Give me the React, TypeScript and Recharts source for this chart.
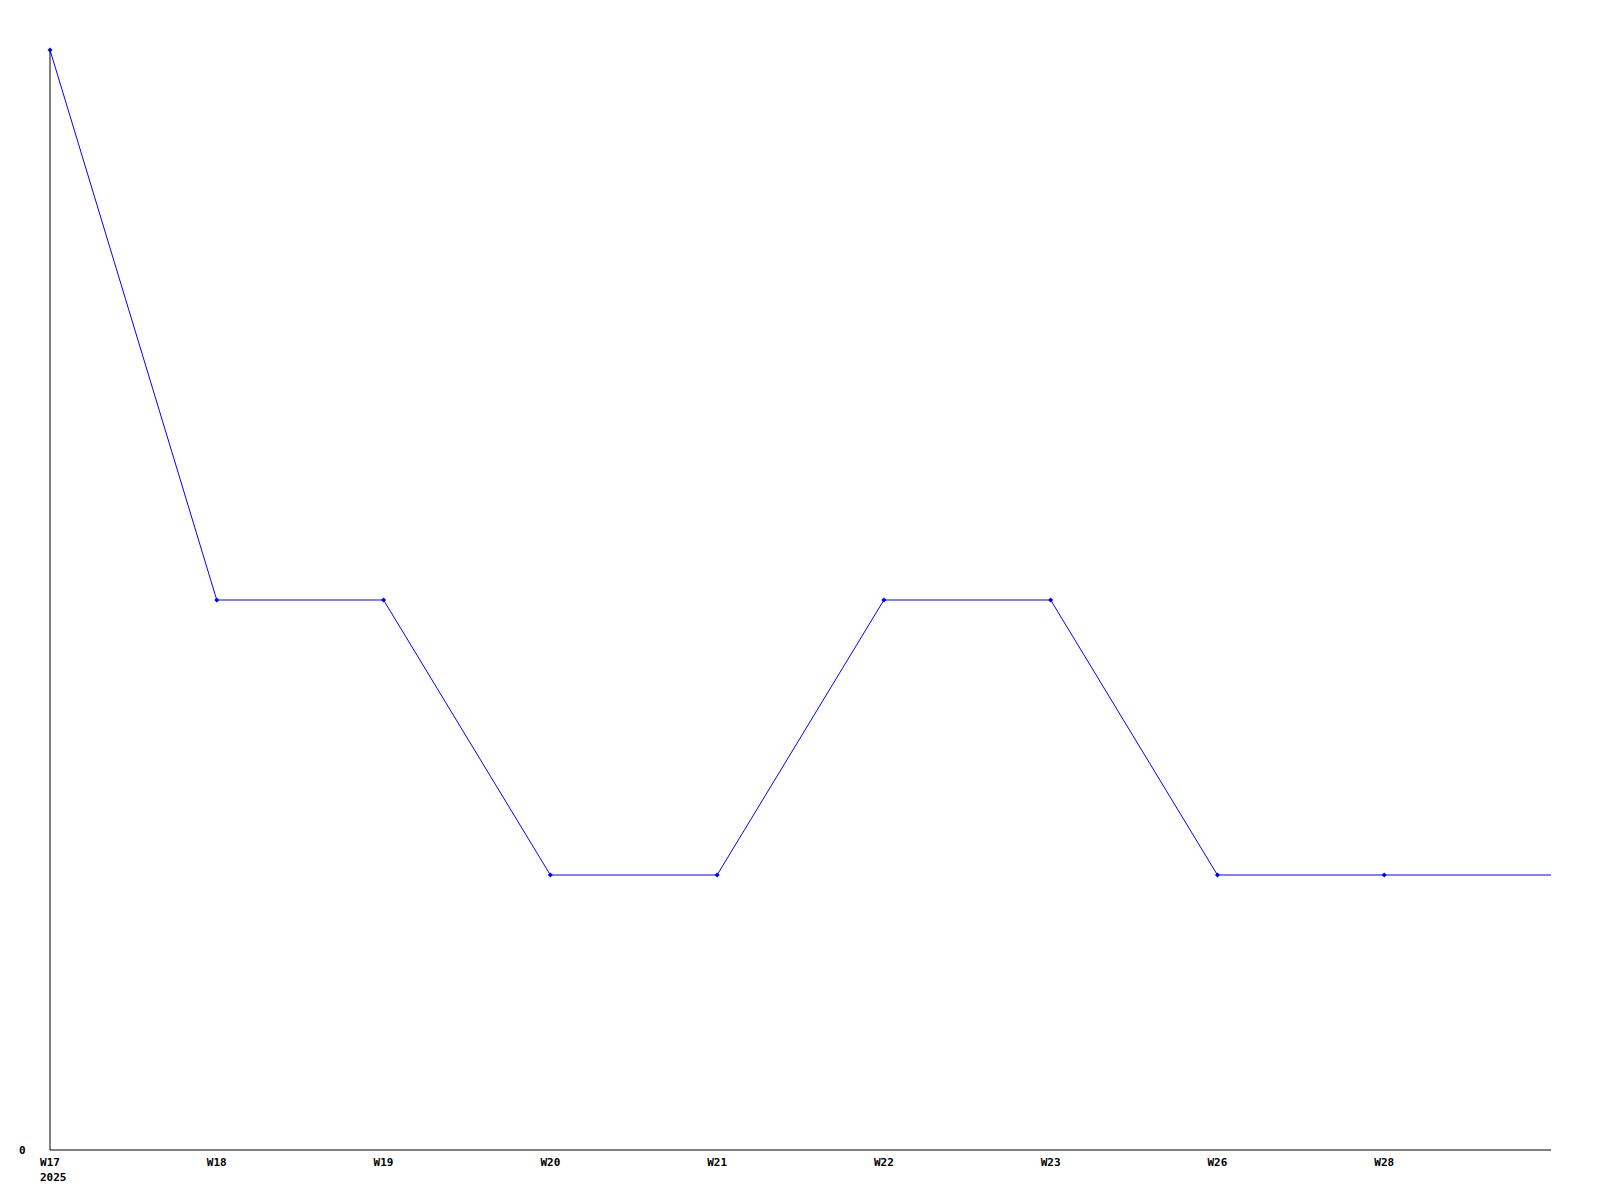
import React from "react";
import { LineChart, Line, XAxis, YAxis } from "recharts";

const weeks = ["W17", "W18", "W19", "W20", "W21", "W22", "W23", "W26", "W28", ""];
const counts = [4, 2, 2, 1, 1, 2, 2, 1, 1, 1];
const yearLabel = "2025";
const yTicks = [0];

const data = weeks.map((w, i) => ({ week: w, count: counts[i] }));

const FONT = "'DejaVu Sans Mono', 'Liberation Mono', monospace";

const XTick = (props: any) => {
  const { x, y, payload, index } = props;
  return (
    <g>
      <text x={x} y={y + 16} textAnchor="middle" fontFamily={FONT} fontWeight="bold" fontSize={11} fill="#000">
        {payload.value}
      </text>
      {index === 0 ? (
        <text x={x - 10} y={y + 31} textAnchor="start" fontFamily={FONT} fontWeight="bold" fontSize={11} fill="#000">
          {yearLabel}
        </text>
      ) : null}
    </g>
  );
};

const YTick = (props: any) => {
  const { y, payload } = props;
  return (
    <text x={19} y={y + 4} textAnchor="start" fontFamily={FONT} fontWeight="bold" fontSize={11} fill="#000">
      {payload.value}
    </text>
  );
};

const Dot = (props: any) => {
  const { cx, cy, index } = props;
  if (index === weeks.length - 1) return <g key={index} />;
  return (
    <path
      key={index}
      d={`M${cx - 2.5},${cy} L${cx},${cy - 2.5} L${cx + 2.5},${cy} L${cx},${cy + 2.5} Z`}
      fill="#0000ff"
      stroke="none"
    />
  );
};

export default function App() {
  return (
    <div style={{ position: "fixed", left: 0, top: 0, width: 1600, height: 1200, background: "#fff" }}>
      <LineChart width={1600} height={1200} data={data} margin={{ top: 50, right: 49, bottom: 0, left: 0 }}>
        <XAxis
          dataKey="week"
          tick={<XTick />}
          tickLine={false}
          tickSize={0}
          tickMargin={0}
          interval={0}
          axisLine={{ stroke: "#000", strokeWidth: 1 }}
          height={50}
        />
        <YAxis
          domain={[0, 4]}
          ticks={yTicks}
          tick={<YTick />}
          tickLine={false}
          tickSize={0}
          width={50}
          axisLine={{ stroke: "#000", strokeWidth: 1 }}
        />
        <Line
          type="linear"
          dataKey="count"
          stroke="#0000ff"
          strokeWidth={1}
          dot={<Dot />}
          activeDot={false}
          isAnimationActive={false}
        />
      </LineChart>
    </div>
  );
}
